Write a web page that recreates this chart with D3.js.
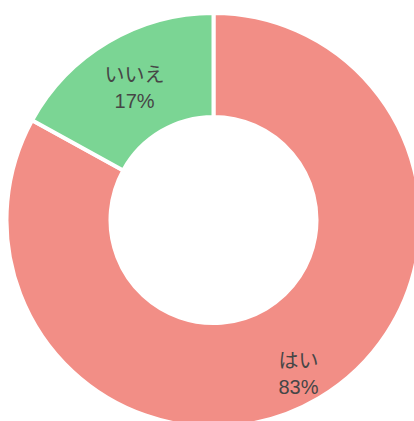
<!DOCTYPE html>
<html>
<head>
<meta charset="utf-8">
<script src="https://cdn.jsdelivr.net/npm/d3@7"></script>
<style>
  body { margin: 0; background: #fff; }
  svg { display: block; }
</style>
</head>
<body>
<div id="chart"></div>
<script>
// answers and their share (%)
var labels = ["はい", "いいえ"];
var values = [83, 17];
var colors = ["#f28e86", "#7bd594"];

var width = 414, height = 421;
var cx = 213.5, cy = 220;
var outer = 207, inner = 103;

var svg = d3.select("#chart").append("svg")
    .attr("width", width)
    .attr("height", height);

var g = svg.append("g")
    .attr("transform", "translate(" + cx + "," + cy + ")");

var pie = d3.pie().sort(null).value(function(d){ return d; });
var arcs = pie(values);

var arc = d3.arc().innerRadius(inner).outerRadius(outer);

g.selectAll("path")
    .data(arcs)
    .enter().append("path")
    .attr("d", arc)
    .attr("fill", function(d, i){ return colors[i]; })
    .attr("stroke", "#fff")
    .attr("stroke-width", 4);

// label nudge so it sits where the original chart put it
var nudge = [[6, 20], [0, 0]];

var lbl = g.selectAll("text.lbl")
    .data(arcs)
    .enter().append("text")
    .attr("class", "lbl")
    .attr("transform", function(d, i){
        var c = arc.centroid(d);
        return "translate(" + (c[0] + nudge[i][0]) + "," + (c[1] + nudge[i][1]) + ")";
    })
    .attr("text-anchor", "middle")
    .attr("fill", "#464646")
    .style("font-family", "'Liberation Sans', Arial, 'Noto Sans CJK JP', sans-serif")
    .style("font-size", "20px");

lbl.append("tspan")
    .attr("x", 0)
    .attr("y", -5)
    .text(function(d, i){ return labels[i]; });

lbl.append("tspan")
    .attr("x", 0)
    .attr("y", 21)
    .text(function(d){ return d.data + "%"; });
</script>
</body>
</html>
